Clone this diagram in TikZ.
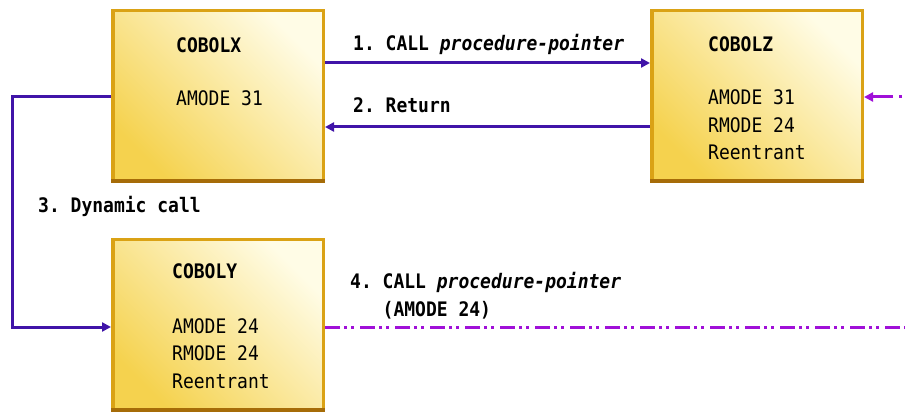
\documentclass[tikz,border=0pt]{standalone}
\usepackage{fontspec}
\newfontfamily\codefont[FakeStretch=0.9]{DejaVu Sans Mono}
\usetikzlibrary{arrows.meta,positioning,calc}
\newcommand\codesize{\codefont\fontsize{20}{27.5}\selectfont\frenchspacing}
\definecolor{boxgold}{HTML}{DAA215}
\definecolor{boxbrown}{HTML}{A66C08}
\definecolor{boxlight}{HTML}{FFFCE6}
\definecolor{boxdark}{HTML}{F5D24E}
\definecolor{callblue}{HTML}{4014A8}
\definecolor{ptrpurple}{HTML}{A010D8}

\begin{document}
\begin{tikzpicture}[
  x=1pt, y=-1pt,
  prog/.style={rectangle, draw=boxgold, line width=3.5pt,
               top color=boxlight, bottom color=boxdark, shading angle=-45,
               minimum width=210.5pt, minimum height=170.5pt},
  progbase/.style={draw=boxbrown, line width=4pt},
  progname/.style={font=\codesize\bfseries, anchor=base west, inner sep=0pt},
  progattr/.style={font=\codesize, anchor=base west, align=left, inner sep=0pt},
  msg/.style={font=\codesize\bfseries, anchor=base west, align=left, inner sep=0pt},
  arr/.style={draw=callblue, line width=3pt, -{Triangle[length=9pt,width=9pt]}},
  ptr/.style={draw=ptrpurple, line width=3pt,
              dash pattern=on 15pt off 4pt on 3pt off 4pt on 3pt off 6pt}
]
\useasboundingbox (0,0) rectangle (905,414);
% Programs
\node[prog] (cobolx) at (218,96) {};
\node[prog, right=325pt of cobolx] (cobolz) {};
\node[prog, below=55pt of cobolx] (coboly) {};
\foreach \p in {cobolx,cobolz,coboly}
  \draw[progbase] ([yshift=2pt]\p.south west) -- ([yshift=2pt]\p.south east);
\node[progname] (xname) at ($(cobolx.north west)+(65,44)$) {COBOLX};
\node[progattr] (xattr) at ($(cobolx.north west)+(65,97)$) {AMODE 31};
% multi-line: base is the last line
\node[progname] (zname) at ($(cobolz.north west)+(58,43)$) {COBOLZ};
\node[progattr] (zattr) at ($(cobolz.north west)+(58,151)$)
  {AMODE 31\\RMODE 24\\Reentrant};
\node[progname] (yname) at ($(coboly.north west)+(61,40)$) {COBOLY};
\node[progattr] (yattr) at ($(coboly.north west)+(61,150)$)
  {AMODE 24\\RMODE 24\\Reentrant};
% Calls
\draw[arr] ([yshift=33pt]cobolx.east) -- ([yshift=33pt]cobolz.west);
\draw[arr] ([yshift=-31pt]cobolz.west) -- ([yshift=-31pt]cobolx.east);
\draw[arr] ([yshift=-1pt]cobolx.west) -- ++(-99,0) |- ([yshift=-2pt]coboly.west);
\coordinate (ptrout) at (905,327);
\draw[ptr] (coboly.east |- ptrout) -- (ptrout);
\coordinate (ptrin) at (905,97);
\draw[ptr, dash pattern=on 0pt off 3pt on 3pt off 6pt on 60pt,
      -{Triangle[length=9pt,width=9pt]}] (ptrin) -- (cobolz.east |- ptrin);
% Labels
\node[msg] (call1) at (353,51) {1. CALL \textit{procedure-pointer}};
\node[msg] (ret2) at (353,113) {2. Return};
\node[msg] (dyn3) at (38,213) {3. Dynamic call};
\node[msg] (call4) at (350,316)
  {4. CALL \textit{procedure-pointer}\\\hphantom{4. }(AMODE 24)};
\end{tikzpicture}
\end{document}
